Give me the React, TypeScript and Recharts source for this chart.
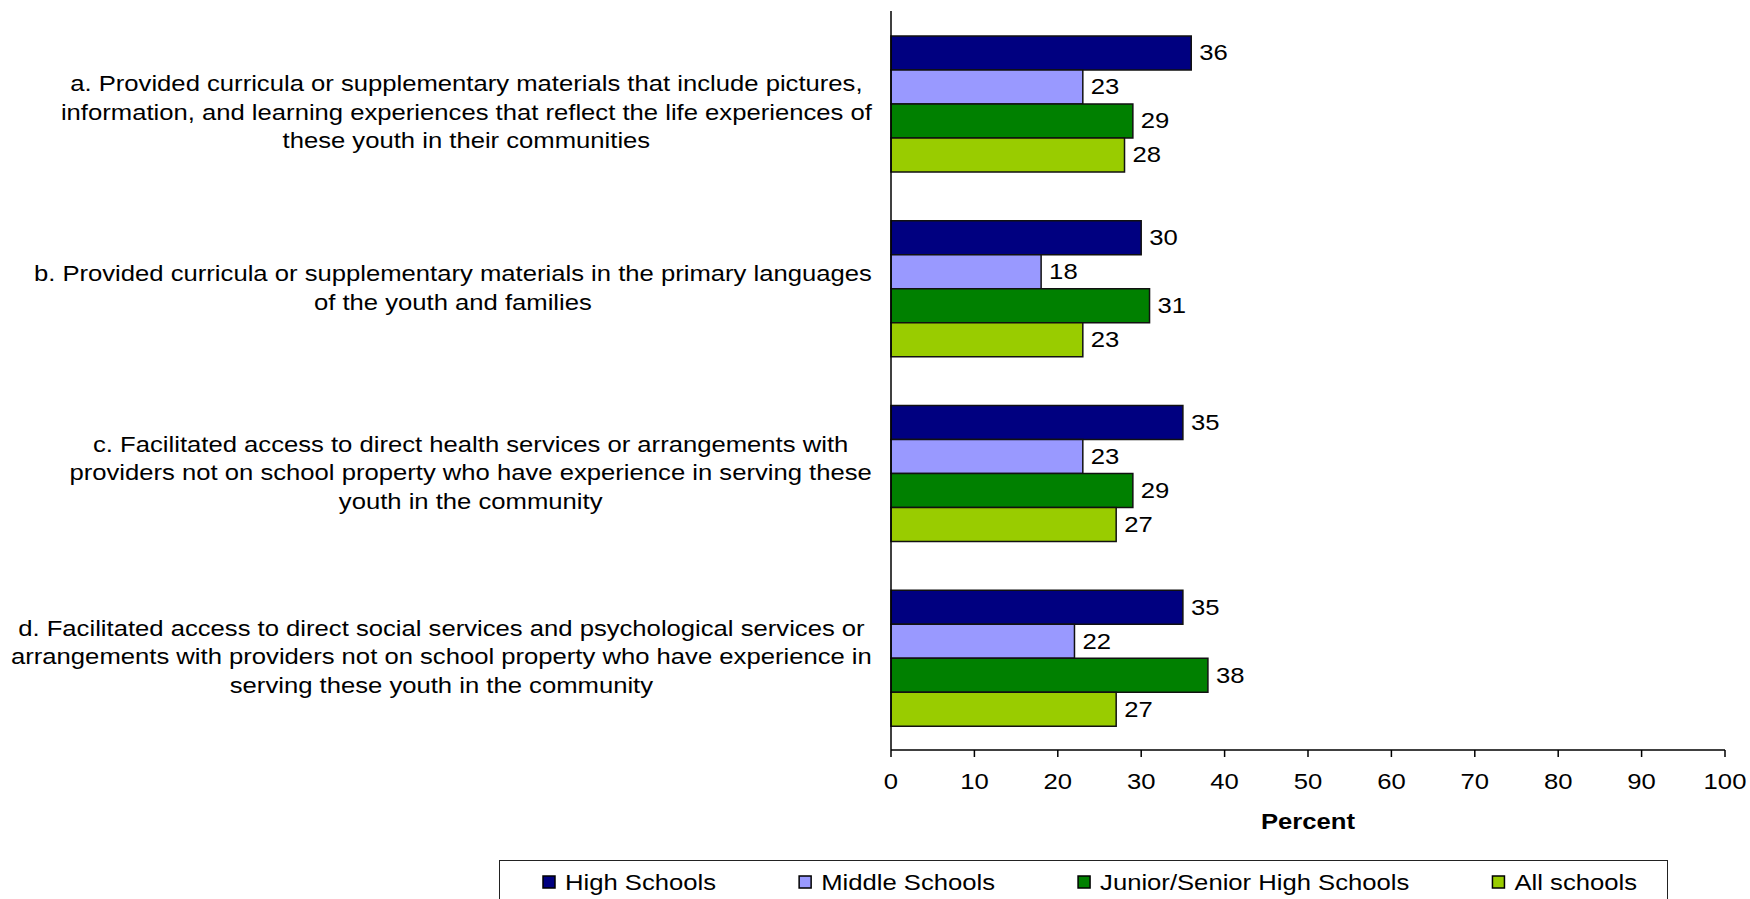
import React from 'react';
import { BarChart, Bar, XAxis, YAxis, LabelList, Label } from 'recharts';

const categories = ['a', 'b', 'c', 'd'];
const categoryLines: string[][] = [
  [
    'a. Provided curricula or supplementary materials that include pictures,',
    'information, and learning experiences that reflect the life experiences of',
    'these youth in their communities',
  ],
  [
    'b. Provided curricula or supplementary materials in the primary languages',
    'of the youth and families',
  ],
  [
    'c. Facilitated access to direct health services or arrangements with',
    'providers not on school property who have experience in serving these',
    'youth in the community',
  ],
  [
    'd. Facilitated access to direct social services and psychological services or',
    'arrangements with providers not on school property who have experience in',
    'serving these youth in the community',
  ],
];
const highSchools = [36, 30, 35, 35];
const middleSchools = [23, 18, 23, 22];
const juniorSeniorHigh = [29, 31, 29, 38];
const allSchools = [28, 23, 27, 27];
const xTicks = [0, 10, 20, 30, 40, 50, 60, 70, 80, 90, 100];
const seriesNames = ['High Schools', 'Middle Schools', 'Junior/Senior High Schools', 'All schools'];
const seriesKeys = ['high', 'middle', 'junior', 'all'];
const seriesColors = ['#000080', '#9999FF', '#008000', '#99CC00'];

const data = categories.map((c, i) => ({
  key: c,
  high: highSchools[i],
  middle: middleSchools[i],
  junior: juniorSeniorHigh[i],
  all: allSchools[i],
}));

const FONT = '"Liberation Sans", Arial, sans-serif';
const FS = 21.5;
const SX = 1.193;
const LINE_H = 28.5;
// vertical nudge of each label block (style only)
const LABEL_NUDGE = [9, 0, 0, -1];

let ctx: CanvasRenderingContext2D | null = null;
function measure(t: string, bold = false): number {
  if (!ctx) {
    const c = document.createElement('canvas');
    ctx = c.getContext('2d');
  }
  if (!ctx) return t.length * FS * 0.5;
  ctx.font = `${bold ? 'bold ' : ''}${FS}px "Liberation Sans"`;
  return ctx.measureText(t).width;
}

const YTick = (props: any) => {
  const { y, payload } = props;
  const idx = categories.indexOf(payload.value);
  const lines = categoryLines[idx] || [];
  const maxW = Math.max(...lines.map((l) => measure(l))) * SX;
  const right = 872;
  const cx = right - maxW / 2;
  const n = lines.length;
  const cy = y + (LABEL_NUDGE[idx] || 0);
  return (
    <g>
      {lines.map((l, i) => (
        <text
          key={i}
          transform={`translate(${cx},${cy + (i - (n - 1) / 2) * LINE_H}) scale(${SX},1)`}
          textAnchor="middle"
          dy="0.35em"
          fontFamily={FONT}
          fontSize={FS}
          fill="#000"
        >
          {l}
        </text>
      ))}
    </g>
  );
};

const XTick = (props: any) => {
  const { x, y, payload } = props;
  return (
    <text
      transform={`translate(${x},${y}) scale(${SX},1)`}
      textAnchor="middle"
      dy="0.72em"
      fontFamily={FONT}
      fontSize={FS}
      fill="#000"
    >
      {payload.value}
    </text>
  );
};

const PercentLabel = (props: any) => {
  const vb = props.viewBox || {};
  const cx = vb.x + vb.width / 2;
  return (
    <text
      transform={`translate(${cx},${vb.y + 71}) scale(${SX},1)`}
      textAnchor="middle"
      dy="0.35em"
      fontFamily={FONT}
      fontSize={FS}
      fontWeight="bold"
      fill="#000"
    >
      Percent
    </text>
  );
};

const ValueLabel = (props: any) => {
  const { x, y, width, height, value } = props;
  return (
    <text
      transform={`translate(${x + width + 8},${y + height / 2}) scale(${SX},1)`}
      textAnchor="start"
      dy="0.35em"
      fontFamily={FONT}
      fontSize={FS}
      fill="#000"
    >
      {value}
    </text>
  );
};

const LEGEND_W = 1169;

const LegendBox = () => {
  let xPos = 44;
  const items = seriesNames.map((name, i) => {
    const x = xPos;
    xPos += 22 + measure(name) * SX + 83;
    return (
      <g key={name}>
        <rect x={x} y={16} width={12} height={12} fill={seriesColors[i]} stroke="#000" strokeWidth={1.5} />
        <text
          transform={`translate(${x + 22},${22}) scale(${SX},1)`}
          dy="0.35em"
          fontFamily={FONT}
          fontSize={FS}
          fill="#000"
        >
          {name}
        </text>
      </g>
    );
  });
  return (
    <div
      style={{
        position: 'absolute',
        left: 499,
        top: 860,
        width: LEGEND_W,
        height: 60,
        border: '1.5px solid #222',
        boxSizing: 'border-box',
        background: '#fff',
      }}
    >
      <svg width={LEGEND_W} height={60} style={{ position: 'absolute', left: -1.5, top: -1.5 }}>
        {items}
      </svg>
    </div>
  );
};

export default function App() {
  return (
    <div style={{ position: 'relative', width: 1750, height: 899, overflow: 'hidden', background: '#fff' }}>
      <style>{'body{margin:0;}'}</style>
      <BarChart
        width={1750}
        height={899}
        data={data}
        layout="vertical"
        margin={{ top: 11, right: 25, bottom: 0, left: 0 }}
        barCategoryGap="13.5%"
        barGap={0}
      >
        <XAxis
          type="number"
          domain={[0, 100]}
          ticks={xTicks}
          interval={0}
          tickSize={7}
          tickMargin={17}
          axisLine={{ stroke: '#000', strokeWidth: 1.5 }}
          tickLine={{ stroke: '#000', strokeWidth: 1.5 }}
          tick={<XTick />}
          height={149}
        >
          <Label content={<PercentLabel />} />
        </XAxis>
        <YAxis
          type="category"
          dataKey="key"
          width={891}
          tickLine={false}
          axisLine={{ stroke: '#000', strokeWidth: 1.5 }}
          tick={<YTick />}
          interval={0}
        />
        {seriesKeys.map((k, i) => (
          <Bar
            key={k}
            dataKey={k}
            name={seriesNames[i]}
            fill={seriesColors[i]}
            stroke="#111"
            strokeWidth={1.5}
            isAnimationActive={false}
          >
            <LabelList dataKey={k} content={<ValueLabel />} />
          </Bar>
        ))}
      </BarChart>
      <LegendBox />
    </div>
  );
}
